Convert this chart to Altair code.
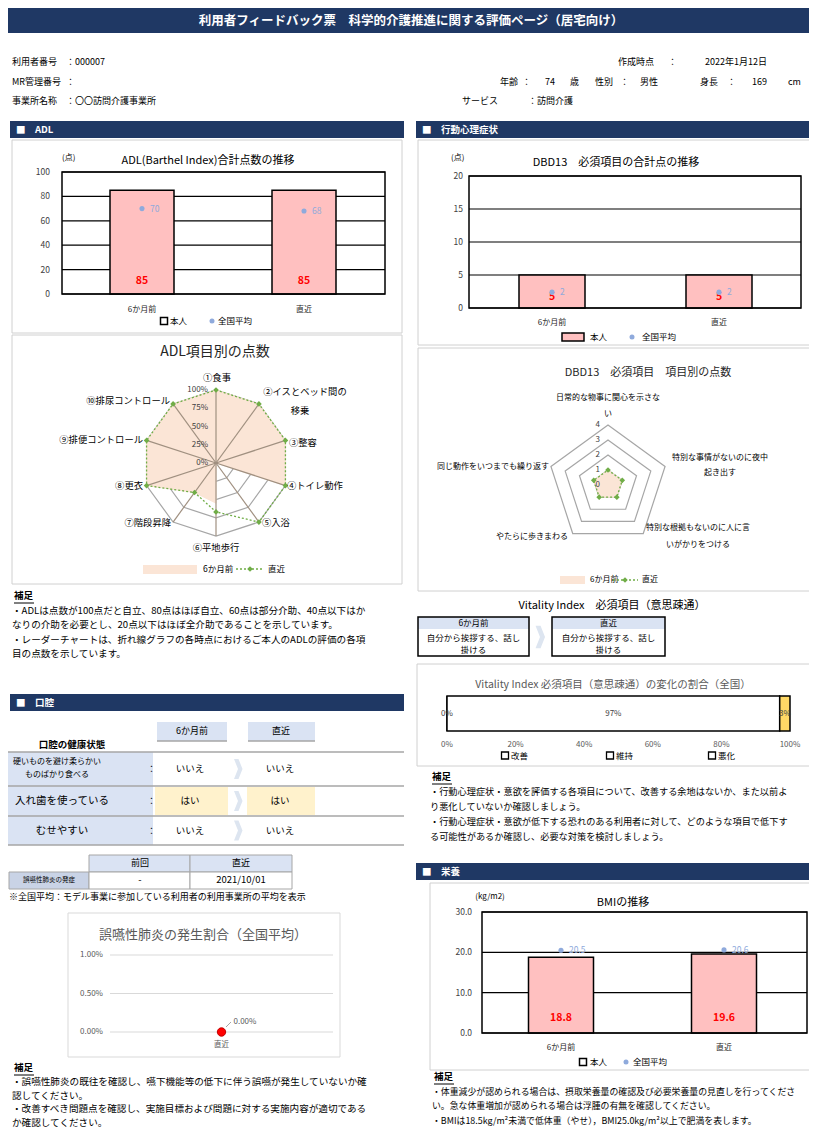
import altair as alt
import pandas as pd

FONT = "Noto Sans CJK JP"
OX, OY = 8, 8
NAVY = "#1f3864"
LBLUE = "#dae3f3"
PINK = "#ffc0c0"
AVG = "#8faadc"
GREEN = "#70ad47"
PEACH = "#fbe5d6"
GRID = "#a6a6a6"

# ---------------- data ----------------
periods = ["6か月前", "直近"]

adl_self = [85, 85]
adl_avg = [70, 68]
adl_ticks = [0, 20, 40, 60, 80, 100]

adl_items = ["①食事", "②イスとベッド間の移乗", "③整容", "④トイレ動作", "⑤入浴",
             "⑥平地歩行", "⑦階段昇降", "⑧更衣", "⑨排便コントロール", "⑩排尿コントロール"]
adl_before = [1, 1, 1, 1, 0, 0.55, 0.5, 1, 1, 1]
adl_after = [1, 1, 1, 1, 1, 0.67, 0.5, 1, 1, 1]
adl_rings = [0.25, 0.5, 0.75, 1.0]
adl_ring_labels = [0, 0.25, 0.5, 0.75, 1.0]

dbd_self = [5, 5]
dbd_avg = [2.4, 2.4]
dbd_ticks = [0, 5, 10, 15, 20]
dbd_items = ["日常的な物事に関心を示さない", "特別な事情がないのに夜中起き出す",
             "特別な根拠もないのに人に言いがかりをつける", "やたらに歩きまわる",
             "同じ動作をいつまでも繰り返す"]
dbd_before = [1, 1, 1, 1, 1]
dbd_after = [1, 1, 1, 1, 1]
dbd_rings = [1, 2, 3, 4]
dbd_ring_labels = [0, 1, 2, 3, 4]

vi_before = "自分から挨拶する、話し掛ける"
vi_after = "自分から挨拶する、話し掛ける"
vi_cats = ["改善", "維持", "悪化"]
vi_share = [0.0, 0.97, 0.03]
vi_ticks = [0, 0.2, 0.4, 0.6, 0.8, 1.0]

oral_items = ["硬いものを避け柔らかいものばかり食べる", "入れ歯を使っている", "むせやすい"]
oral_before = ["いいえ", "はい", "いいえ"]
oral_after = ["いいえ", "はい", "いいえ"]
pneu_prev = "-"
pneu_last = "2021/10/01"
pneu_cats = ["直近"]
pneu_rate = [0.0]
pneu_ticks = [0, 0.005, 0.01]

bmi_self = [18.8, 19.6]
bmi_avg = [20.5, 20.6]
bmi_ticks = [0, 10, 20, 30]

one = pd.DataFrame({"k": [0]})
layers = []
add = layers.append


# ---------------- helpers ----------------
def T(s, x, y, size=9.5, align="left", weight="normal", color="#000000", lh=None):
    kw = dict(text=s, fontSize=size, align=align, baseline="middle",
              fontWeight=weight, color=color, font=FONT)
    if "\n" in s:
        kw["lineBreak"] = "\n"
        kw["lineHeight"] = lh or size * 1.45
    return alt.Chart(one).mark_text(**kw).encode(x=alt.value(x - OX), y=alt.value(y - OY))


def R(x1, y1, x2, y2, fill=None, stroke=None, sw=1.0):
    kw = {}
    if fill:
        kw["fill"] = fill
    else:
        kw["fill"] = "#ffffff"
        kw["fillOpacity"] = 0
    if stroke:
        kw["stroke"] = stroke
        kw["strokeWidth"] = sw
    else:
        kw["strokeWidth"] = 0
    return alt.Chart(one).mark_rect(**kw).encode(
        x=alt.value(x1 - OX), x2=alt.value(x2 - OX), y=alt.value(y1 - OY), y2=alt.value(y2 - OY))


def L(x1, y1, x2, y2, color="#000000", sw=1.0, dash=None):
    kw = dict(color=color, strokeWidth=sw)
    if dash:
        kw["strokeDash"] = dash
    return alt.Chart(one).mark_rule(**kw).encode(
        x=alt.value(x1 - OX), x2=alt.value(x2 - OX), y=alt.value(y1 - OY), y2=alt.value(y2 - OY))


def P(x, y, shape="circle", color=AVG, size=25):
    return alt.Chart(one).mark_point(shape=shape, filled=True, color=color, size=size, opacity=1).encode(
        x=alt.value(x - OX), y=alt.value(y - OY))


CHEV = "M-0.4,-1L0.05,-1L0.45,0L0.05,1L-0.4,1L0,0Z"


def chevron(x, y, size=500, color="#dde5f0"):
    return alt.Chart(one).mark_point(shape=CHEV, filled=True, fill=color, strokeWidth=0,
                                     size=size, opacity=1).encode(x=alt.value(x - OX), y=alt.value(y - OY))


def section(x1, y1, x2, y2, label):
    add(R(x1, y1, x2, y2, fill=NAVY))
    add(T("■　" + label, x1 + 6, (y1 + y2) / 2, size=9.5, weight="bold", color="white"))


def notes(x, y0, lines, gap=14.5, size=9.8):
    add(T("補足", x + 2, y0, size=9.5, weight="bold"))
    add(L(x + 2, y0 + 7, x + 22, y0 + 7, sw=1))
    for i, s in enumerate(lines):
        add(T(s, x, y0 + gap * (i + 1), size=size))


def bars(own, avg, ticks, fmt_tick, fmt_own, fmt_avg, x0, x1, yb, yt, c0, c1, bw,
         own_y, cat_y, tick_x, avg_dx=8):
    step = c1 - c0
    pi = 1 - bw / step
    xs = alt.Scale(type="band", domain=periods, range=[c0 - step / 2 - OX, c1 + step / 2 - OX],
                   paddingInner=pi, paddingOuter=pi / 2)
    ys = alt.Scale(domain=[ticks[0], ticks[-1]], range=[yb - OY, yt - OY], nice=False, zero=False)
    df = pd.DataFrame({"period": periods, "own": own, "avg": avg})
    tk = pd.DataFrame({"t": ticks})
    xe = alt.X("period:N", scale=xs, axis=None)
    ye_own = alt.Y("own:Q", scale=ys, axis=None)
    ye_avg = alt.Y("avg:Q", scale=ys, axis=None)
    grid = alt.Chart(tk).mark_rule(color="#000000", strokeWidth=1.2).encode(
        y=alt.Y("t:Q", scale=ys, axis=None), x=alt.value(x0 - OX), x2=alt.value(x1 - OX))
    frame = R(x0, yt, x1, yb, stroke="#000000", sw=1.5)
    bar = alt.Chart(df).mark_bar(fill=PINK, stroke="#000000", strokeWidth=1.5).encode(x=xe, y=ye_own)
    own_lbl = alt.Chart(df).mark_text(color="#ff0000", fontWeight="bold", fontSize=10.5, font=FONT).encode(
        x=xe, y=alt.value(own_y - OY), text=alt.Text("own:Q", format=fmt_own))
    pt = alt.Chart(df).mark_circle(color=AVG, size=26, opacity=1).encode(x=xe, y=ye_avg)
    pt_lbl = alt.Chart(df).mark_text(color=AVG, fontSize=8.5, align="left", dx=avg_dx, font=FONT).encode(
        x=xe, y=ye_avg, text=alt.Text("avg:Q", format=fmt_avg))
    tick_lbl = alt.Chart(tk).mark_text(align="right", fontSize=8.5, color="#404040", font=FONT).encode(
        y=alt.Y("t:Q", scale=ys, axis=None), x=alt.value(tick_x - OX), text=alt.Text("t:Q", format=fmt_tick))
    cat_lbl = alt.Chart(df).mark_text(fontSize=8, font=FONT, color="#262626").encode(
        x=xe, y=alt.value(cat_y - OY), text="period:N")
    return alt.layer(grid, bar, frame, own_lbl, pt, pt_lbl, tick_lbl, cat_lbl)


def radar(n, before, after, rings, ring_labels, ring_fmt, vmax, cx, cy, Rr, spokes=True,
          ring_color=GRID):
    xs = alt.Scale(domain=[-vmax, vmax], range=[cx - Rr - OX, cx + Rr - OX], nice=False, zero=False)
    ys = alt.Scale(domain=[-vmax, vmax], range=[cy + Rr - OY, cy - Rr - OY], nice=False, zero=False)
    xe = alt.X("px:Q", scale=xs, axis=None)
    ye = alt.Y("py:Q", scale=ys, axis=None)
    df = pd.DataFrame({"idx": list(range(n)), "before": before, "after": after})
    ring = pd.DataFrame({"lv": [lv for lv in rings for _ in range(n)],
                         "idx": [i for _ in rings for i in range(n)]})
    spk = pd.DataFrame({"idx": list(range(n)), "lv": [vmax] * n, "z": [0] * n})
    rl = pd.DataFrame({"lv": ring_labels, "z": [0] * len(ring_labels)})

    def pos(ch, f):
        return (ch.transform_calculate(ang=f"datum.idx * 2 * PI / {n}")
                  .transform_calculate(px=f"datum.{f} * sin(datum.ang)")
                  .transform_calculate(py=f"datum.{f} * cos(datum.ang)"))

    out = []
    out.append(pos(alt.Chart(ring), "lv").mark_line(interpolate="linear-closed", color=ring_color,
                                                    strokeWidth=1.2).encode(
        x=xe, y=ye, order=alt.Order("idx:Q"), detail="lv:N"))
    out.append(pos(alt.Chart(df), "before").mark_line(interpolate="linear-closed", fill=PEACH,
                                                      stroke=PEACH, strokeWidth=1).encode(
        x=xe, y=ye, order=alt.Order("idx:Q")))
    if spokes:
        out.append(pos(alt.Chart(spk), "lv").mark_rule(color="#a09080", strokeWidth=1.2).encode(
            x=alt.X("z:Q", scale=xs, axis=None), y=alt.Y("z:Q", scale=ys, axis=None),
            x2="px:Q", y2="py:Q"))
    out.append(pos(alt.Chart(df), "after").mark_line(interpolate="linear-closed", color=GREEN,
                                                     strokeWidth=1.3, strokeDash=[2, 2]).encode(
        x=xe, y=ye, order=alt.Order("idx:Q")))
    out.append(pos(alt.Chart(df), "after").mark_point(shape="diamond", filled=True, color=GREEN,
                                                      size=32, opacity=1).encode(x=xe, y=ye))
    out.append(alt.Chart(rl).mark_text(align="right", dx=-8, fontSize=8, color="#404040", font=FONT).encode(
        x=alt.X("z:Q", scale=xs, axis=None), y=alt.Y("lv:Q", scale=ys, axis=None),
        text=alt.Text("lv:Q", format=ring_fmt)))
    return alt.layer(*out)


# ---------------- header ----------------
add(R(6, 8, 816, 33, fill=NAVY))
add(T("利用者フィードバック票　科学的介護推進に関する評価ページ（居宅向け）", 411, 21, size=12.5,
      align="center", weight="bold", color="white"))

add(T("利用者番号", 12, 62, size=9))
add(T("：000007", 66, 62, size=9))
add(T("MR管理番号", 12, 82, size=9))
add(T("：", 66, 82, size=9))
add(T("事業所名称", 12, 101, size=9))
add(T("：〇〇訪問介護事業所", 66, 101, size=9))
add(T("作成時点", 618, 62, size=9))
add(T("：", 668, 62, size=9))
add(T("2022年1月12日", 705, 62, size=9))
for s, x in [("年齢", 500), ("：", 522), ("74", 545), ("歳", 570), ("性別", 595), ("：", 620),
             ("男性", 640), ("身長", 700), ("：", 727), ("169", 752), ("cm", 788)]:
    add(T(s, x, 82, size=9))
add(T("サービス", 462, 101, size=9))
add(T("：訪問介護", 528, 101, size=9))

# ---------------- ADL ----------------
section(10, 121, 404, 138, "ADL")
add(R(12, 140, 402, 333, stroke="#d0d0d0", sw=1))
add(T("ADL(Barthel Index)合計点数の推移", 208, 161, size=11, align="center"))
add(T("(点)", 62, 158, size=8))
add(bars(adl_self, adl_avg, adl_ticks, "d", "d", "d", 62, 385, 294, 172, 142, 304, 64,
         281, 310, 50))
add(R(160.5, 317.5, 167.5, 324.5, fill="#ffffff", stroke="#000000", sw=1.5))
add(T("本人", 170, 321, size=8.5))
add(P(212, 321))
add(T("全国平均", 218, 321, size=8.5))

add(R(12, 335, 402, 584, stroke="#d0d0d0", sw=1))
add(T("ADL項目別の点数", 215, 352, size=14, align="center", color="#262626"))
add(radar(10, adl_before, adl_after, adl_rings, adl_ring_labels, ".0%", 1, 216, 463, 73))
lab = 9.3
add(T(adl_items[0], 217, 378, size=lab, align="center"))
add(T(adl_items[1][:9], 305, 392, size=lab, align="center"))
add(T(adl_items[1][9:], 300, 411, size=lab, align="center"))
add(T(adl_items[2], 289, 443, size=lab))
add(T(adl_items[3], 287, 486, size=lab))
add(T(adl_items[4], 262, 523, size=lab))
add(T(adl_items[5], 216, 548, size=lab, align="center"))
add(T(adl_items[6], 171, 523, size=lab, align="right"))
add(T(adl_items[7], 143, 486, size=lab, align="right"))
add(T(adl_items[8], 143, 440, size=lab, align="right"))
add(T(adl_items[9], 170, 401, size=lab, align="right"))
add(R(143, 565, 197, 574, fill=PEACH))
add(T("6か月前", 203, 569, size=8.5))
add(L(236, 569, 264, 569, color=GREEN, sw=1.3, dash=[2, 2]))
add(P(250, 569, shape="diamond", color=GREEN, size=32))
add(T("直近", 268, 569, size=8.5))

notes(12, 596, [
    "・ADLは点数が100点だと自立、80点はほぼ自立、60点は部分介助、40点以下はか",
    "なりの介助を必要とし、20点以下はほぼ全介助であることを示しています。",
    "・レーダーチャートは、折れ線グラフの各時点におけるご本人のADLの評価の各項",
    "目の点数を示しています。",
], gap=14.5, size=9.6)

# ---------------- 行動心理症状 ----------------
section(416, 121, 815, 138, "行動心理症状")
add(R(418, 140, 812, 345, stroke="#d0d0d0", sw=1))
add(T("DBD13　必須項目の合計点の推移", 616, 163, size=11, align="center"))
add(T("(点)", 451, 158, size=8))
add(bars(dbd_self, dbd_avg, dbd_ticks, "d", "d", ".0f", 469, 801, 308, 176, 552, 719, 66,
         297, 323, 463))
add(R(562, 333, 584, 341, fill=PINK, stroke="#000000", sw=1.5))
add(T("本人", 590, 337, size=8.5))
add(P(632, 337))
add(T("全国平均", 642, 337, size=8.5))

add(R(418, 348, 812, 591, stroke="#d0d0d0", sw=1))
add(T("DBD13　必須項目　項目別の点数", 648, 373, size=11, align="center", color="#262626"))
add(radar(5, dbd_before, dbd_after, dbd_rings, dbd_ring_labels, "d", 4, 608, 485, 60,
          spokes=False))
dl = 8
add(T(dbd_items[0][:13], 608, 398, size=dl, align="center"))
add(T(dbd_items[0][13:], 608, 414, size=dl, align="center"))
add(T(dbd_items[1][:12], 720, 458, size=dl, align="center"))
add(T(dbd_items[1][12:], 720, 473, size=dl, align="center"))
add(T(dbd_items[2][:13], 698, 528, size=dl, align="center"))
add(T(dbd_items[2][13:], 698, 545, size=dl, align="center"))
add(T(dbd_items[3], 568, 537, size=dl, align="right"))
add(T(dbd_items[4], 549, 467, size=dl, align="right"))
add(R(560, 576, 585, 584, fill=PEACH))
add(T("6か月前", 590, 580, size=8))
add(L(613, 580, 638, 580, color=GREEN, sw=1.3, dash=[2, 2]))
add(P(625, 580, shape="diamond", color=GREEN, size=30))
add(T("直近", 642, 580, size=8))

# Vitality
add(T("Vitality Index　必須項目（意思疎通）", 612, 606, size=11, align="center"))
for (x1, x2, head, body) in [(418, 529, periods[0], vi_before), (552, 665, periods[1], vi_after)]:
    add(R(x1, 617, x2, 629, fill=LBLUE))
    add(R(x1, 617, x2, 656, stroke="#000000", sw=1.5))
    cx = (x1 + x2) / 2
    add(T(head, cx, 623, size=8.5, align="center"))
    add(T(body[:11], cx, 638, size=8.5, align="center"))
    add(T(body[11:], cx, 650, size=8.5, align="center"))
add(chevron(540, 637))

add(R(417, 664, 811, 766, stroke="#d0d0d0", sw=1))
add(T("Vitality Index  必須項目（意思疎通）の変化の割合（全国）", 613, 685, size=10.5,
      align="center", color="#595959"))
vxs = alt.Scale(domain=[0, 1], range=[447 - OX, 790 - OX], nice=False, zero=False)
vdf = pd.DataFrame({"cat": vi_cats, "share": vi_share, "o": [0, 1, 2]})
vbase = (alt.Chart(vdf)
         .transform_stack(stack="share", as_=["s0", "s1"], groupby=[], sort=[alt.SortField("o")])
         .transform_calculate(mid="(datum.s0 + datum.s1) / 2"))
vbar = vbase.mark_rect(stroke="#000000", strokeWidth=1.5).encode(
    x=alt.X("s0:Q", scale=vxs, axis=None), x2="s1:Q",
    y=alt.value(696 - OY), y2=alt.value(731 - OY),
    color=alt.Color("cat:N", scale=alt.Scale(domain=vi_cats, range=["#ffffff", "#ffffff", "#ffd966"]),
                    legend=None))
vlbl = vbase.mark_text(fontSize=8, color="#404040", font=FONT).encode(
    x=alt.X("mid:Q", scale=vxs, axis=None), y=alt.value(714 - OY),
    text=alt.Text("share:Q", format=".0%"))
vtk = alt.Chart(pd.DataFrame({"t": vi_ticks})).mark_text(fontSize=8, color="#595959", font=FONT).encode(
    x=alt.X("t:Q", scale=vxs, axis=None), y=alt.value(745 - OY), text=alt.Text("t:Q", format=".0%"))
add(alt.layer(vbar, vlbl, vtk))
for x, s in [(505, vi_cats[0]), (610, vi_cats[1]), (712, vi_cats[2])]:
    add(R(x - 3.5, 752, x + 3.5, 759, fill="#ffffff", stroke="#000000", sw=1.3))
    add(T(s, x + 6, 756, size=8.5))

notes(430, 777, [
    "・行動心理症状・意欲を評価する各項目について、改善する余地はないか、また以前よ",
    "り悪化していないか確認しましょう。",
    "・行動心理症状・意欲が低下する恐れのある利用者に対して、どのような項目で低下す",
    "る可能性があるか確認し、必要な対策を検討しましょう。",
], gap=15, size=9.2)

# ---------------- 口腔 ----------------
section(10, 694, 404, 711, "口腔")
add(R(157, 722, 227, 741, fill=LBLUE))
add(L(157, 741, 227, 741, color="#a6a6a6", sw=1.5))
add(T(periods[0], 192, 731, size=9, align="center"))
add(R(248, 722, 315, 741, fill=LBLUE))
add(L(248, 741, 315, 741, color="#a6a6a6", sw=1.5))
add(T(periods[1], 281, 731, size=9, align="center"))
add(T("口腔の健康状態", 72, 745, size=9.5, weight="bold", align="center"))
rows = [(752, 786), (786, 816), (816, 845)]
for i, (y1, y2) in enumerate(rows):
    yc = (y1 + y2) / 2
    add(R(8, y1, 153, y2, fill=LBLUE))
    for (x1, x2, v) in [(155, 228, oral_before[i]), (247, 315, oral_after[i])]:
        if v == "はい":
            add(R(x1, y1 + 1, x2, y2 - 1, fill="#fff2cc"))
    add(T("：", 147, yc, size=9))
    add(T(oral_before[i], 190, yc, size=9.5, align="center"))
    add(T(oral_after[i], 280, yc, size=9.5, align="center"))
    add(chevron(238, yc, size=400))
    if len(oral_items[i]) > 12:
        add(T(oral_items[i][:11], 57, yc - 7, size=8, align="center"))
        add(T(oral_items[i][11:], 57, yc + 6, size=8, align="center"))
    else:
        add(T(oral_items[i], 62, yc, size=10.5, align="center"))
for y in [752, 786, 816, 845]:
    add(L(8, y, 404, y, color="#a6a6a6", sw=1.5))

add(R(89, 855, 190, 872, fill=LBLUE, stroke="#a6a6a6", sw=1))
add(R(190, 855, 292, 872, fill=LBLUE, stroke="#a6a6a6", sw=1))
add(T("前回", 140, 863, size=9, align="center"))
add(T("直近", 241, 863, size=9, align="center"))
add(R(9, 872, 89, 889, fill="#c9d3e6", stroke="#a6a6a6", sw=1))
add(R(89, 872, 190, 889, fill="#ffffff", stroke="#a6a6a6", sw=1))
add(R(190, 872, 292, 889, fill="#ffffff", stroke="#a6a6a6", sw=1))
add(T("誤嚥性肺炎の発症", 49, 880, size=6.5, align="center"))
add(T(pneu_prev, 140, 880, size=9.5, align="center"))
add(T(pneu_last, 241, 880, size=9.5, align="center"))
add(T("※全国平均：モデル事業に参加している利用者の利用事業所の平均を表示", 9, 897, size=9))

add(R(68, 913, 340, 1057, stroke="#d9d9d9", sw=1))
add(T("誤嚥性肺炎の発生割合（全国平均）", 203, 935, size=13, align="center", color="#595959"))
pxs = alt.Scale(type="point", domain=pneu_cats, range=[110 - OX, 333 - OX], padding=0.5)
pys = alt.Scale(domain=[pneu_ticks[0], pneu_ticks[-1]], range=[1032 - OY, 955 - OY], nice=False, zero=False)
ptk = pd.DataFrame({"t": pneu_ticks})
pdf = pd.DataFrame({"cat": pneu_cats, "rate": pneu_rate})
pgrid = alt.Chart(ptk).mark_rule(color="#d9d9d9", strokeWidth=1).encode(
    y=alt.Y("t:Q", scale=pys, axis=None), x=alt.value(110 - OX), x2=alt.value(333 - OX))
ptl = alt.Chart(ptk).mark_text(align="right", fontSize=8, color="#595959", font=FONT).encode(
    y=alt.Y("t:Q", scale=pys, axis=None), x=alt.value(103 - OX), text=alt.Text("t:Q", format=".2%"))
ppt = alt.Chart(pdf).mark_point(filled=True, color="#ff0000", size=70, opacity=1, stroke="#c00000",
                                strokeWidth=1).encode(
    x=alt.X("cat:N", scale=pxs, axis=None), y=alt.Y("rate:Q", scale=pys, axis=None))
plbl = alt.Chart(pdf).mark_text(align="left", dx=12, dy=-10, fontSize=8, color="#595959", font=FONT).encode(
    x=alt.X("cat:N", scale=pxs, axis=None), y=alt.Y("rate:Q", scale=pys, axis=None),
    text=alt.Text("rate:Q", format=".2%"))
pcat = alt.Chart(pdf).mark_text(fontSize=7.5, color="#595959", font=FONT).encode(
    x=alt.X("cat:N", scale=pxs, axis=None), y=alt.value(1045 - OY), text="cat:N")
add(alt.layer(pgrid, ptl, ppt, plbl, pcat))
add(L(226, 1027, 231, 1022, color="#a6a6a6", sw=1))

notes(12, 1068, [
    "・誤嚥性肺炎の既往を確認し、嚥下機能等の低下に伴う誤嚥が発生していないか確",
    "認してください。",
    "・改善すべき問題点を確認し、実施目標および問題に対する実施内容が適切である",
    "か確認してください。",
], gap=13.8, size=9.6)

# ---------------- 栄養 ----------------
section(416, 863, 815, 880, "栄養")
add(R(430, 883, 812, 1070, stroke="#d0d0d0", sw=1))
add(T("BMIの推移", 623, 903, size=11, align="center"))
add(T("(kg/m2)", 490, 897, size=8, align="center"))
add(bars(bmi_self, bmi_avg, bmi_ticks, ".1f", ".1f", ".1f", 482, 807, 1033, 912, 561, 724, 65,
         1018, 1048, 472, avg_dx=8))
add(R(579.5, 1058.5, 586.5, 1065.5, fill="#ffffff", stroke="#000000", sw=1.5))
add(T("本人", 590, 1062, size=8.5))
add(P(626, 1062))
add(T("全国平均", 633, 1062, size=8.5))

notes(432, 1077, [
    "・体重減少が認められる場合は、摂取栄養量の確認及び必要栄養量の見直しを行ってくださ",
    "い。急な体重増加が認められる場合は浮腫の有無を確認してください。",
    "・BMIは18.5kg/m²未満で低体重（やせ），BMI25.0kg/m²以上で肥満を表します。",
], gap=14.5, size=8.9)

chart = (alt.layer(*layers)
         .resolve_scale(x="independent", y="independent", color="independent")
         .properties(width=801, height=1124, autosize=alt.AutoSizeParams(type="none"), padding=0)
         .configure_view(strokeWidth=0))
chart.save("out.html", embed_options={"renderer": "svg", "actions": False})
